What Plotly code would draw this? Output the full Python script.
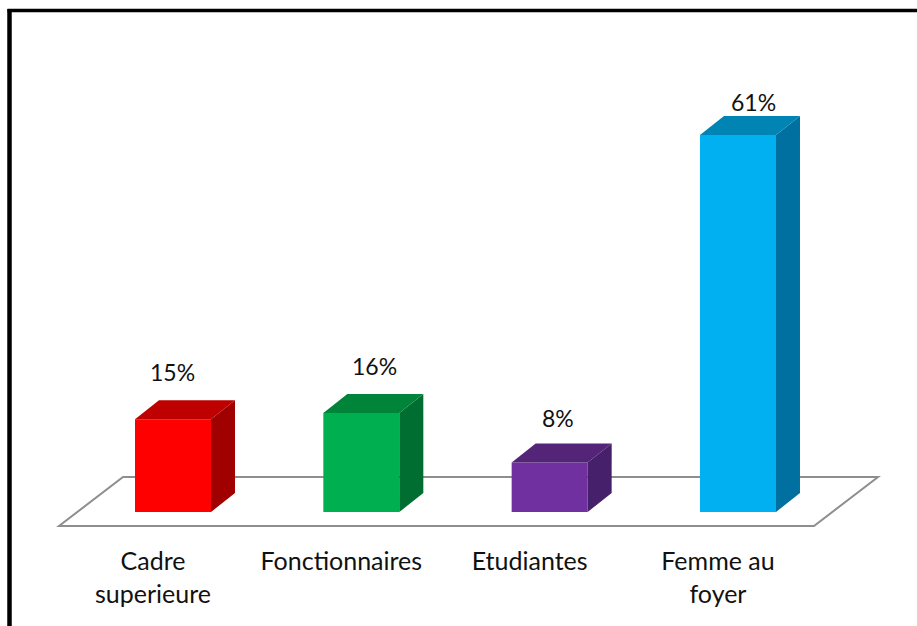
import plotly.graph_objects as go

categories = ["Cadre<br>superieure", "Fonctionnaires", "Etudiantes", "Femme au<br>foyer"]
values = [15, 16, 8, 61]
front_colors = ["#FF0000", "#00B050", "#7030A0", "#00B0F0"]
top_colors = ["#BF0000", "#008439", "#542478", "#0084B4"]
side_colors = ["#A00000", "#006E30", "#46206A", "#0070A0"]
label_dx_px = [-1, 13, 8, 16]
label_dy_px = [47, 47, 45, 33]

W, H = 917, 626
PLOT_BOTTOM = 530
PX_PER_X = 188.33
PX_PER_Y = 6.18
X0_PX = 173
Y0_PX = 512
BAR_W = 76 / PX_PER_X
DX = 24 / PX_PER_X
DY = 19 / PX_PER_Y
TICK_SHIFT = 20 / PX_PER_X
FONT = "Lato"
TEXT = "#111111"


def ux(px):
    return (px - X0_PX) / PX_PER_X


def uy(py):
    return (Y0_PX - py) / PX_PER_Y


fig = go.Figure()

positions = list(range(len(categories)))
for i, v in enumerate(values):
    r = i + BAR_W / 2
    l = i - BAR_W / 2
    fig.add_trace(go.Scatter(
        x=[r, r + DX, r + DX, r, r], y=[0, DY, v + DY, v, 0],
        mode="lines", fill="toself", fillcolor=side_colors[i],
        line=dict(width=0), hoverinfo="skip", showlegend=False))
    fig.add_trace(go.Scatter(
        x=[l, l + DX, r + DX, r, l], y=[v, v + DY, v + DY, v, v],
        mode="lines", fill="toself", fillcolor=top_colors[i],
        line=dict(width=0), hoverinfo="skip", showlegend=False))

fig.add_trace(go.Bar(x=positions, y=values, width=BAR_W,
                     marker=dict(color=front_colors, line=dict(width=0)),
                     hoverinfo="skip", showlegend=False))

for i, v in enumerate(values):
    fig.add_annotation(x=i, y=v, text=f"{v}%", showarrow=False,
                       xshift=label_dx_px[i], yshift=label_dy_px[i],
                       font=dict(family=FONT, size=23, color=TEXT))

floor_path = (f"M {ux(59)} {uy(526)} L {ux(123)} {uy(477)} "
              f"L {ux(878)} {uy(477)} L {ux(814)} {uy(526)} Z")

fig.update_layout(
    width=W, height=H, margin=dict(l=0, r=0, t=0, b=H - PLOT_BOTTOM, pad=0),
    paper_bgcolor="white", plot_bgcolor="white", showlegend=False,
    xaxis=dict(range=[ux(0), ux(W)], tickmode="array",
               tickvals=[p - TICK_SHIFT for p in positions],
               ticktext=categories, showgrid=False, zeroline=False, showline=False,
               ticks="outside", ticklen=9, tickcolor="rgba(0,0,0,0)",
               tickfont=dict(family=FONT, size=25, color=TEXT)),
    yaxis=dict(range=[uy(PLOT_BOTTOM), uy(0)], visible=False),
    shapes=[
        dict(type="path", xref="x", yref="y", path=floor_path, layer="below",
             line=dict(color="#8E8E8E", width=2)),
        dict(type="line", xref="paper", yref="paper", x0=7.5 / W, x1=1,
             y0=1 - 10.5 / PLOT_BOTTOM, y1=1 - 10.5 / PLOT_BOTTOM,
             line=dict(color="black", width=3.5)),
        dict(type="line", xref="paper", yref="paper", x0=9.5 / W, x1=9.5 / W,
             y0=1 - 9 / PLOT_BOTTOM, y1=1 - H / PLOT_BOTTOM,
             line=dict(color="black", width=4.5)),
    ],
)
fig.write_html("out.html", config={"displayModeBar": False},
               post_script="document.body.style.margin='0';document.body.style.overflow='hidden';")
